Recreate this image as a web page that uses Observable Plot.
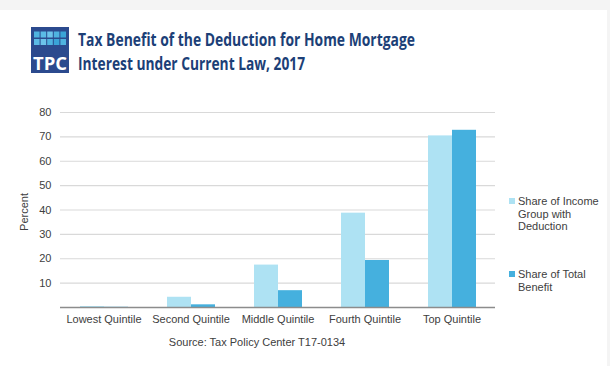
<!DOCTYPE html>
<html>
<head>
<meta charset="utf-8">
<script src="https://cdn.jsdelivr.net/npm/d3@7"></script>
<script src="https://cdn.jsdelivr.net/npm/@observablehq/plot@0.6"></script>
<style>
  html, body { margin: 0; padding: 0; background: #fff; }
  #wrap { position: relative; width: 610px; height: 366px; overflow: hidden; background: #fff; font-family: "Liberation Sans", Arial, sans-serif; }
  #topband { position: absolute; left: 0; top: 0; width: 610px; height: 10px; background: #f4f4f4; }
  #rightband { position: absolute; left: 607px; top: 0; width: 3px; height: 366px; background: #f4f4f4; }
  #chart { position: absolute; left: 0; top: 100px; }
  #ylabel { position: absolute; left: 24px; top: 212px; font-size: 11px; color: #404040; transform: translate(-50%, -50%) rotate(-90deg); white-space: nowrap; }
  #legend { position: absolute; left: 509px; top: 0; font-size: 11px; color: #404040; line-height: 12.5px; }
  .item { position: absolute; left: 0; width: 100px; padding-left: 9px; }
  .sw { position: absolute; left: 0; top: 3px; width: 6px; height: 6px; }
  #source { position: absolute; left: 0; width: 514px; top: 336px; text-align: center; font-size: 11px; color: #404040; }
</style>
</head>
<body>
<div id="wrap">
  <div id="topband"></div>
  <div id="rightband"></div>
  <svg id="head" width="610" height="95" style="position:absolute;left:0;top:0">
    <rect x="31" y="27" width="38" height="46" fill="#2b4a8e"/>
    <g id="tiles"></g>
    <text x="50" y="70" text-anchor="middle" fill="#fff" font-family="Open Sans, sans-serif" font-weight="700" font-size="17" textLength="34" lengthAdjust="spacingAndGlyphs">TPC</text>
    <text x="78" y="46" fill="#1c3f77" font-family="Open Sans, sans-serif" font-weight="700" font-size="17.5" textLength="337" lengthAdjust="spacingAndGlyphs">Tax Benefit of the Deduction for Home Mortgage</text>
    <text x="78" y="70" fill="#1c3f77" font-family="Open Sans, sans-serif" font-weight="700" font-size="17.5" textLength="227" lengthAdjust="spacingAndGlyphs">Interest under Current Law, 2017</text>
  </svg>
  <div id="chart"></div>
  <div id="ylabel">Percent</div>
  <div id="legend"></div>
  <div id="source">Source: Tax Policy Center T17-0134</div>
</div>
<script>
const quintiles = ["Lowest Quintile", "Second Quintile", "Middle Quintile", "Fourth Quintile", "Top Quintile"];
const seriesNames = ["Share of Income Group with Deduction", "Share of Total Benefit"];
const shareWithDeduction = [0.4, 4.2, 17.4, 38.7, 70.4];
const shareOfBenefit = [0.1, 1.1, 6.9, 19.3, 72.7];
const yTicks = [10, 20, 30, 40, 50, 60, 70, 80];
const colors = ["#aee2f3", "#45b0de"];

// logo tiles
const tileColors = ["#4fb3e0", "#5bbbe6", "#6cc3ea", "#4fb3e0", "#3aa4d8"];
const tiles = document.getElementById("tiles");
for (let r = 0; r < 2; r++) {
  for (let c = 0; c < 5; c++) {
    const t = document.createElementNS("http://www.w3.org/2000/svg", "rect");
    t.setAttribute("x", 34 + c * 6.6);
    t.setAttribute("y", 31.5 + r * 7.5);
    t.setAttribute("width", 5.6);
    t.setAttribute("height", 6);
    t.setAttribute("fill", tileColors[(c + r) % 5]);
    tiles.appendChild(t);
  }
}

const data = [];
quintiles.forEach((q, i) => {
  data.push({q, s: seriesNames[0], v: shareWithDeduction[i]});
  data.push({q, s: seriesNames[1], v: shareOfBenefit[i]});
});

const chart = Plot.plot({
  width: 610,
  height: 237,
  marginLeft: 58,
  marginRight: 113,
  marginTop: 12,
  marginBottom: 30,
  style: {fontFamily: "Liberation Sans, Arial, sans-serif", fontSize: "11px", color: "#404040", background: "transparent"},
  fx: {domain: quintiles, padding: 0, label: null},
  x: {domain: seriesNames, paddingInner: 0, paddingOuter: 0.76, axis: null},
  y: {domain: [0, 80], label: null},
  color: {domain: seriesNames, range: colors},
  marks: [
    Plot.gridY(yTicks, {stroke: "#d9d9d9", strokeOpacity: 1, strokeWidth: 1.2}),
    Plot.axisY(yTicks, {tickSize: 0, tickPadding: 9, label: null, fill: "#404040"}),
    Plot.axisFx({anchor: "bottom", tickSize: 0, tickPadding: 8, label: null, fill: "#404040"}),
    Plot.barY(data, {fx: "q", x: "s", y: "v", fill: "s"}),
    Plot.ruleY([0], {stroke: "#8c8c8c", strokeWidth: 1.5})
  ]
});
document.getElementById("chart").appendChild(chart);

const legend = document.getElementById("legend");
const legendTops = [195, 268];
seriesNames.forEach((name, i) => {
  const d = document.createElement("div");
  d.className = "item";
  d.style.top = legendTops[i] + "px";
  const sw = document.createElement("span");
  sw.className = "sw";
  sw.style.background = colors[i];
  d.appendChild(sw);
  const words = i === 0 ? ["Share of Income", "Group with", "Deduction"] : ["Share of Total", "Benefit"];
  words.forEach((w, k) => {
    if (k) d.appendChild(document.createElement("br"));
    d.appendChild(document.createTextNode(w));
  });
  legend.appendChild(d);
});
</script>
</body>
</html>
